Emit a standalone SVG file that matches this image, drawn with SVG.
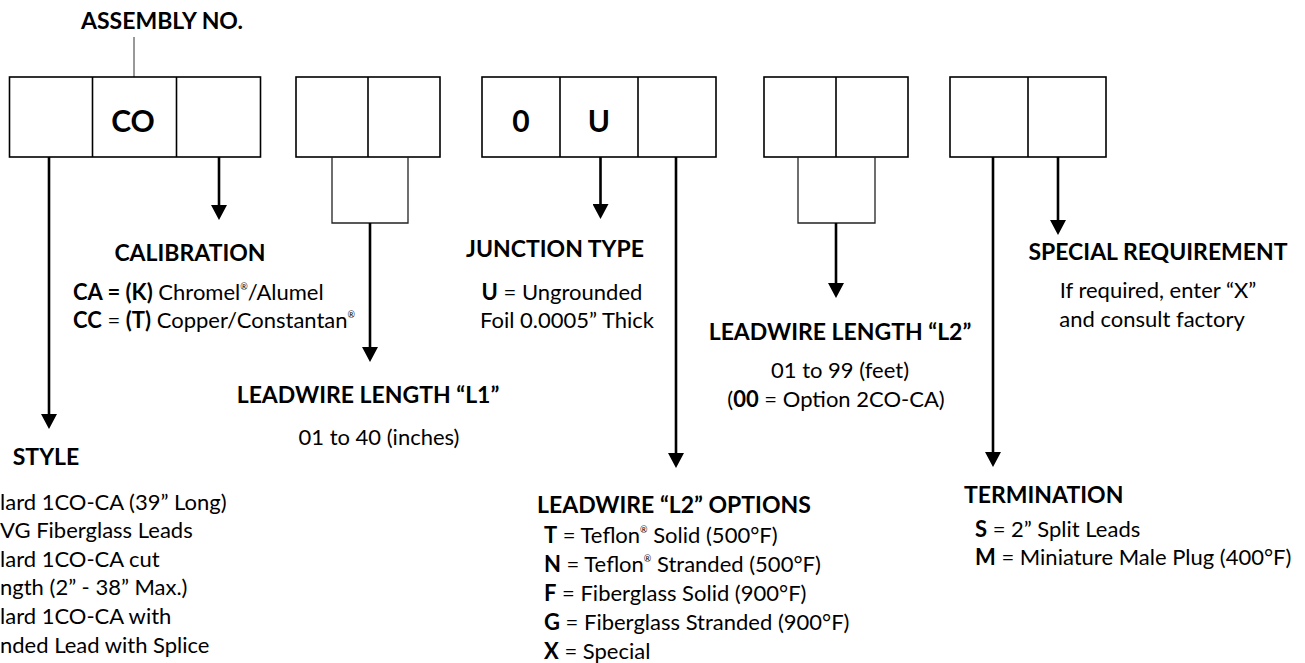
<svg xmlns="http://www.w3.org/2000/svg" width="1305" height="663" viewBox="0 0 1305 663">
  <style>
    .box { fill: none; stroke: #000; stroke-width: 1.6; }
    .sub { fill: none; stroke: #222; stroke-width: 1.3; }
    .tick { stroke: #333; stroke-width: 1; }
    .lead { stroke: #000; stroke-width: 2.6; fill: none; marker-end: url(#ah); }
    text { font-family: Lato, "Liberation Sans", sans-serif; fill: #000; }
    .h { font-size: 23px; font-weight: 700; }
    .cell { font-size: 30px; font-weight: 700; }
    .t { font-size: 22px; }
    .b { font-weight: 700; }
    .r { font-size: 9px; }
  </style>
  <defs>
    <marker id="ah" markerUnits="userSpaceOnUse" markerWidth="16" markerHeight="16" viewBox="0 0 15 16" refX="1" refY="8" orient="auto">
      <path d="M0,0 L15,8 L0,16 Z" fill="#000"/>
    </marker>
  </defs>

  <!-- assembly number label -->
  <g id="assembly">
    <text class="h" x="162" y="29" text-anchor="middle">ASSEMBLY NO.</text>
    <line class="tick" x1="134" y1="37" x2="134" y2="77"/>
  </g>

  <!-- code field groups -->
  <g id="field-1">
    <rect class="box" x="9.5" y="77" width="251" height="80"/>
    <line class="box" x1="92.5" y1="77" x2="92.5" y2="157"/>
    <line class="box" x1="176.5" y1="77" x2="176.5" y2="157"/>
    <text class="cell" x="133" y="131.5" text-anchor="middle">CO</text>
  </g>
  <g id="field-2">
    <rect class="box" x="296" y="77" width="144" height="80"/>
    <line class="box" x1="368" y1="77" x2="368" y2="157"/>
    <polyline class="sub" points="332,157 332,223 408,223 408,157"/>
  </g>
  <g id="field-3">
    <rect class="box" x="482" y="77" width="234" height="80"/>
    <line class="box" x1="560" y1="77" x2="560" y2="157"/>
    <line class="box" x1="638" y1="77" x2="638" y2="157"/>
    <text class="cell" x="521" y="131.5" text-anchor="middle">0</text>
    <text class="cell" x="599" y="131.5" text-anchor="middle">U</text>
  </g>
  <g id="field-4">
    <rect class="box" x="764" y="77" width="144" height="80"/>
    <line class="box" x1="836" y1="77" x2="836" y2="157"/>
    <polyline class="sub" points="798,157 798,223 875,223 875,157"/>
  </g>
  <g id="field-5">
    <rect class="box" x="950" y="77" width="156" height="80"/>
    <line class="box" x1="1028" y1="77" x2="1028" y2="157"/>
  </g>

  <!-- leader arrows -->
  <g id="connectors">
    <line class="lead" x1="49" y1="157" x2="49" y2="415"/>
    <line class="lead" x1="219" y1="157" x2="219" y2="206"/>
    <line class="lead" x1="370" y1="223" x2="370" y2="348"/>
    <line class="lead" x1="600.5" y1="157" x2="600.5" y2="205"/>
    <line class="lead" x1="676" y1="157" x2="676" y2="454"/>
    <line class="lead" x1="836" y1="223" x2="836" y2="284"/>
    <line class="lead" x1="993" y1="157" x2="993" y2="453"/>
    <line class="lead" x1="1058" y1="157" x2="1058" y2="221"/>
  </g>

  <g id="style">
    <text class="h" x="46" y="465" text-anchor="middle">STYLE</text>
    <text class="t" x="0" y="510">lard 1CO-CA (39” Long)</text>
    <text class="t" x="0" y="538">VG Fiberglass Leads</text>
    <text class="t" x="0" y="567">lard 1CO-CA cut</text>
    <text class="t" x="0" y="595">ngth (2” - 38” Max.)</text>
    <text class="t" x="0" y="624">lard 1CO-CA with</text>
    <text class="t" x="0" y="653">nded Lead with Splice</text>
  </g>

  <g id="calibration">
    <text class="h" x="190" y="261" text-anchor="middle">CALIBRATION</text>
    <text class="t" x="73" y="300"><tspan class="b">CA = (K)</tspan> Chromel<tspan class="r" dy="-10">®</tspan><tspan dy="10">/Alumel</tspan></text>
    <text class="t" x="73" y="328"><tspan class="b">CC</tspan> = <tspan class="b">(T)</tspan> Copper/Constantan<tspan class="r" dy="-10">®</tspan></text>
  </g>

  <g id="leadwire-l1">
    <text class="h" x="368" y="403" text-anchor="middle">LEADWIRE LENGTH “L1”</text>
    <text class="t" x="379" y="445" text-anchor="middle">01 to 40 (inches)</text>
  </g>

  <g id="junction">
    <text class="h" x="555" y="257" text-anchor="middle">JUNCTION TYPE</text>
    <text class="t" x="562" y="300" text-anchor="middle"><tspan class="b">U</tspan> = Ungrounded</text>
    <text class="t" x="567" y="328" text-anchor="middle">Foil 0.0005” Thick</text>
  </g>

  <g id="leadwire-l2">
    <text class="h" x="840" y="340" text-anchor="middle">LEADWIRE LENGTH “L2”</text>
    <text class="t" x="840" y="378" text-anchor="middle">01 to 99 (feet)</text>
    <text class="t" x="836" y="407" text-anchor="middle">(<tspan class="b">00</tspan> = Option 2CO-CA)</text>
  </g>

  <g id="l2-options">
    <text class="h" x="537" y="513">LEADWIRE “L2” OPTIONS</text>
    <text class="t" x="544" y="543"><tspan class="b">T</tspan> = Teflon<tspan class="r" dy="-10">®</tspan><tspan dy="10"> Solid (500°F)</tspan></text>
    <text class="t" x="544" y="572"><tspan class="b">N</tspan> = Teflon<tspan class="r" dy="-10">®</tspan><tspan dy="10"> Stranded (500°F)</tspan></text>
    <text class="t" x="544" y="601"><tspan class="b">F</tspan> = Fiberglass Solid (900°F)</text>
    <text class="t" x="544" y="630"><tspan class="b">G</tspan> = Fiberglass Stranded (900°F)</text>
    <text class="t" x="544" y="659"><tspan class="b">X</tspan> = Special</text>
  </g>

  <g id="termination">
    <text class="h" x="964" y="503">TERMINATION</text>
    <text class="t" x="975" y="537"><tspan class="b">S</tspan> = 2” Split Leads</text>
    <text class="t" x="975" y="565"><tspan class="b">M</tspan> = Miniature Male Plug (400°F)</text>
  </g>

  <g id="special">
    <text class="h" x="1158" y="260" text-anchor="middle">SPECIAL REQUIREMENT</text>
    <text class="t" x="1158" y="298" text-anchor="middle">If required, enter “X”</text>
    <text class="t" x="1152" y="327" text-anchor="middle">and consult factory</text>
  </g>
</svg>
